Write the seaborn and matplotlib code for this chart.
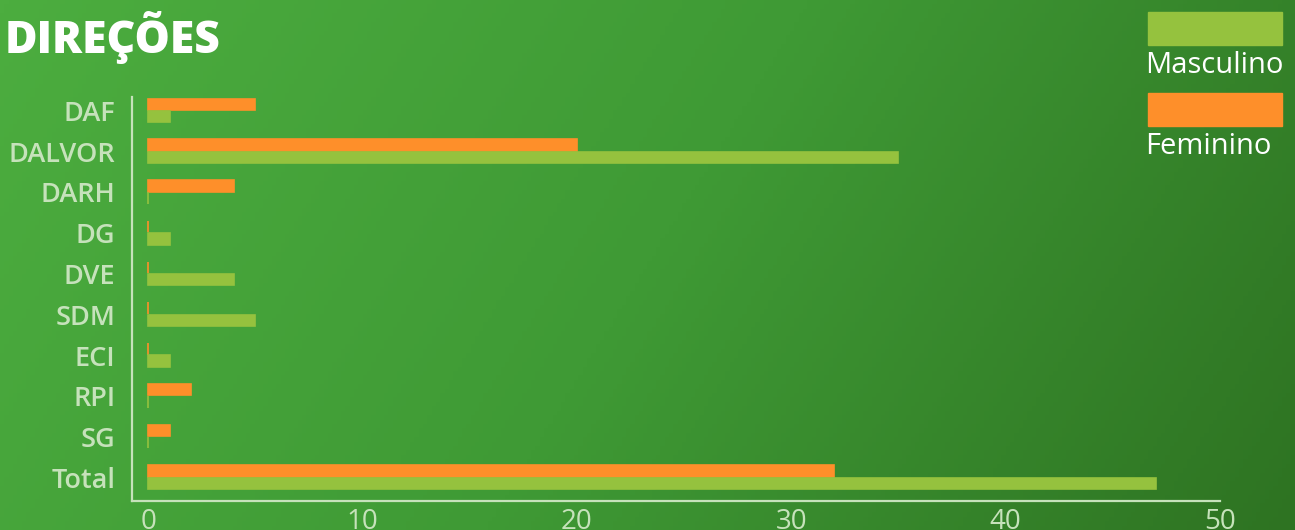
import numpy as np
import pandas as pd
import seaborn as sns
import matplotlib.pyplot as plt
from matplotlib.colors import LinearSegmentedColormap
from matplotlib.patches import Rectangle

categories = ['DAF', 'DALVOR', 'DARH', 'DG', 'DVE', 'SDM', 'ECI', 'RPI', 'SG', 'Total']
feminino = [5, 20, 4, 0, 0, 0, 0, 2, 1, 32]
masculino = [1, 35, 0, 1, 4, 5, 1, 0, 0, 47]
x_ticks = [0, 10, 20, 30, 40, 50]

green_bar = '#95c23e'
orange_bar = '#fe8f2a'
pale = '#c6e2bb'

df = pd.concat([
    pd.DataFrame({'direcao': categories, 'valor': feminino, 'sexo': 'Feminino'}),
    pd.DataFrame({'direcao': categories, 'valor': masculino, 'sexo': 'Masculino'}),
])

sns.set_style('white')
plt.rcParams['font.family'] = ['Open Sans', 'DejaVu Sans']

fig = plt.figure(figsize=(12.95, 5.30), dpi=100)

# gradient background
bg = fig.add_axes([0, 0, 1, 1], zorder=-10)
gx, gy = np.meshgrid(np.linspace(0, 1, 300), np.linspace(0, 1, 120))
grad = 0.8 * gx + 0.2 * gy
cmap = LinearSegmentedColormap.from_list('bg', ['#4cad3f', '#3f9a35', '#2e7322'])
bg.imshow(grad, cmap=cmap, aspect='auto', extent=[0, 1, 0, 1])
bg.set_axis_off()

ax = fig.add_axes([132 / 1295, 1 - 501 / 530, (1220 - 132) / 1295, (501 - 90) / 530])
ax.set_facecolor('none')

sns.barplot(
    data=df,
    x='valor',
    y='direcao',
    hue='sexo',
    hue_order=['Feminino', 'Masculino'],
    palette=[orange_bar, green_bar],
    saturation=1,
    orient='h',
    width=0.6,
    gap=0.06,
    linewidth=1.2,
    legend=False,
    ax=ax,
)
for p in ax.patches:
    p.set_edgecolor(p.get_facecolor())

ax.set_xlim(-0.75, 50)
ax.set_ylim(9.58, -0.5)
ax.set_xticks(x_ticks)
ax.set_xlabel('')
ax.set_ylabel('')

for s in ['top', 'right']:
    ax.spines[s].set_visible(False)
for s in ['left', 'bottom']:
    ax.spines[s].set_color(pale)
    ax.spines[s].set_linewidth(1.6)
ax.spines['left'].set_bounds(9.58, -0.34)

ax.tick_params(axis='x', direction='in', length=4.5, width=1.6, color=pale,
               labelcolor=pale, labelsize=20, pad=5)
ax.tick_params(axis='y', length=0, labelcolor=pale, labelsize=19.5, pad=12)
for t in ax.get_yticklabels():
    t.set_fontweight('semibold')

fig.text(5 / 1295, 1 - 53 / 530, 'DIREÇÕES', color='white', fontsize=32,
         fontweight='heavy', ha='left', va='baseline')

# legend
for i, (lab, col) in enumerate([('Masculino', green_bar), ('Feminino', orange_bar)]):
    top = 12 + i * 81
    fig.patches.append(Rectangle((1148 / 1295, 1 - (top + 33) / 530), 134 / 1295, 33 / 530,
                                 transform=fig.transFigure, color=col))
    fig.text(1145 / 1295, 1 - (top + 61) / 530, lab, color='white', fontsize=21,
             ha='left', va='baseline')

plt.savefig('out.png', dpi=100)
